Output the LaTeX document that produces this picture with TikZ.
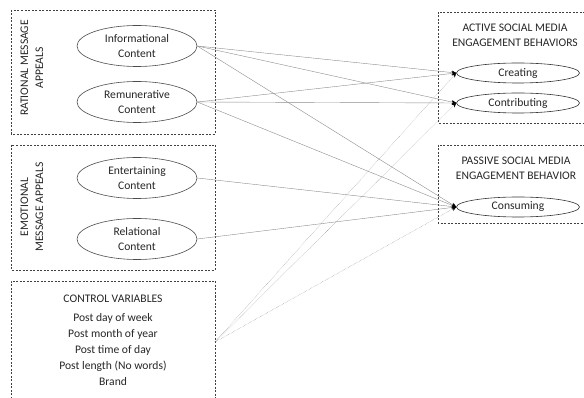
\documentclass[tikz,border=0pt]{standalone}
\usepackage{fontspec}
\setmainfont{Carlito}
\usetikzlibrary{arrows.meta,shapes.geometric}

\begin{document}
\begin{tikzpicture}[x=1pt,y=-1pt,>={Stealth[length=4.5pt,width=4pt,black]},
  font=\fontsize{11.6}{15}\selectfont,text=black!85,
  grp/.style={draw=black!75,semithick,dash pattern=on 2pt off 1.5pt},
  var/.style={ellipse,draw=black!70,semithick,minimum width=120pt,minimum height=41pt,align=center,inner sep=0pt},
  dv/.style={ellipse,draw=black!80,semithick,minimum width=123pt,minimum height=20pt,inner sep=0pt},
  lnk/.style={->,draw=black!45},
  ctl/.style={->,draw=black!50,densely dotted}]
\useasboundingbox (0,0) rectangle (584,398);
% group frames
\draw[grp] (11,10) rectangle (215,134);
\draw[grp] (11,145) rectangle (215,270);
\draw[grp] (11,398.5)--(11,281)--(215,281)--(215,398.5);
\draw[grp] (585,12)--(438,12)--(438,123)--(585,123);
\draw[grp] (585,145)--(438,145)--(438,223)--(585,223);
% group labels
\node[rotate=90,align=center] (ratlbl) at (32,68) {RATIONAL MESSAGE\\APPEALS};
\node[rotate=90,align=center] (emolbl) at (32,207) {EMOTIONAL\\MESSAGE APPEALS};
\node[align=center] (acthd) at (515,35) {ACTIVE SOCIAL MEDIA\\ENGAGEMENT BEHAVIORS};
\node[align=center] (pashd) at (516,168) {PASSIVE SOCIAL MEDIA\\ENGAGEMENT BEHAVIOR};
% message appeals
\node[var] (info) at (137,46) {Informational\\Content};
\node[var] (remu) at (137,102) {Remunerative\\Content};
\node[var] (ente) at (137,178) {Entertaining\\Content};
\node[var] (rela) at (137,239) {Relational\\Content};
% engagement behaviors
\node[dv] (crea) at (518,73) {Creating};
\node[dv] (cont) at (518,103) {Contributing};
\node[dv] (cons) at (518,207) {Consuming};
% controls
\node[align=center,font=\fontsize{11.6}{16}\selectfont] (ctrl) at (113,340)
  {CONTROL VARIABLES\\[3pt]Post day of week\\Post month of year\\Post time of day\\Post length (No words)\\Brand};
\coordinate (cv) at (215,342);
% paths
\draw[lnk] (info.east) -- (crea.west);
\draw[lnk] (info.east) -- (cont.west);
\draw[lnk] (info.east) -- (cons.west);
\draw[lnk] (remu.east) -- (crea.west);
\draw[lnk] (remu.east) -- (cont.west);
\draw[lnk] (remu.east) -- (cons.west);
\draw[lnk] (ente.east) -- (cons.west);
\draw[lnk] (rela.east) -- (cons.west);
\draw[ctl] (cv) -- (crea.west);
\draw[ctl] (cv) -- (cont.west);
\draw[ctl] (cv) -- (cons.west);
\end{tikzpicture}
\end{document}
